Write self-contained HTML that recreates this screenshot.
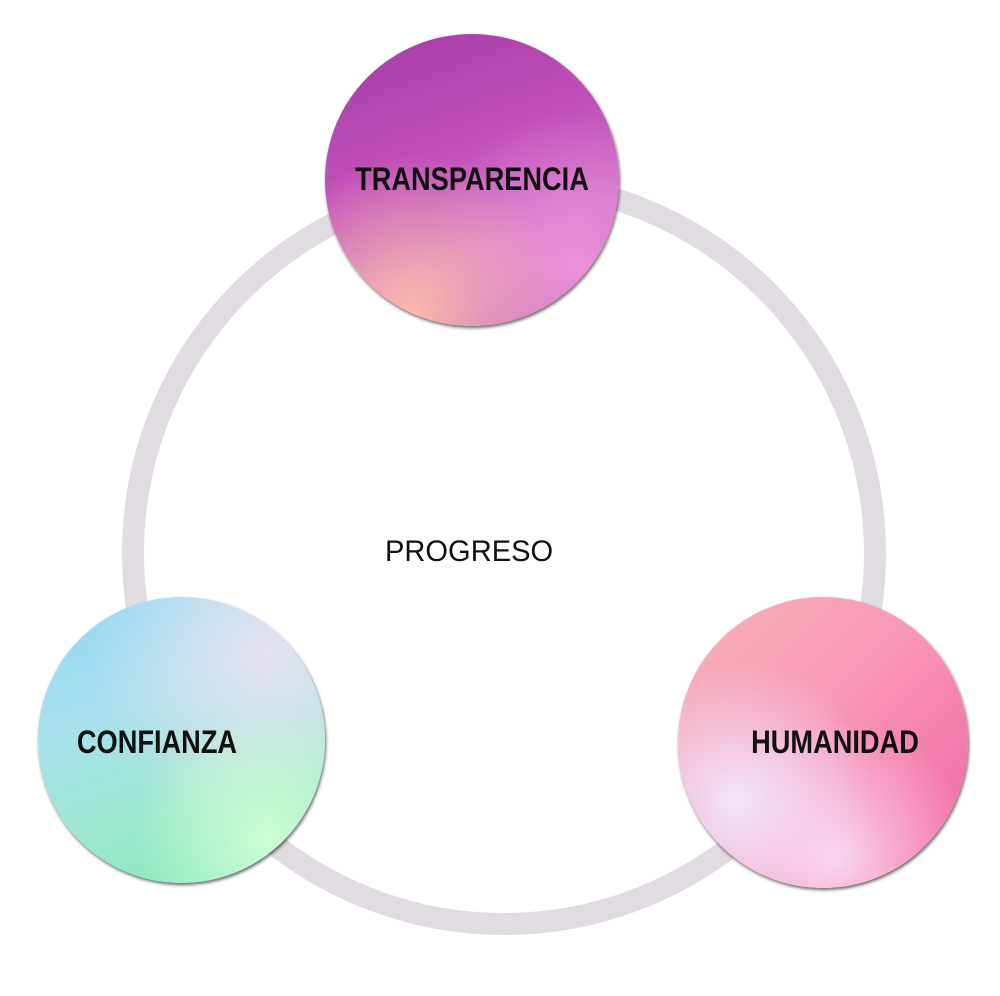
<!DOCTYPE html>
<html><head><meta charset="utf-8"><style>
html,body{margin:0;padding:0;background:#fff;}
body{width:1000px;height:996px;position:relative;overflow:hidden;font-family:"Liberation Sans",sans-serif;}
.ring{position:absolute;left:122px;top:171px;width:720px;height:720px;border:22px solid #e0dce1;border-radius:50%;}
.c{position:absolute;border-radius:50%;box-shadow:1px 2px 3px rgba(0,0,0,0.6);}
.lbl{position:absolute;font-weight:bold;font-size:32px;color:#111;transform:scaleX(0.85);transform-origin:center;white-space:nowrap;text-align:center;width:400px;}
</style></head><body>
<div class="ring"></div>
<div class="c" style="left:325px;top:34px;width:294px;height:292px;background:
radial-gradient(circle at 30% 95%,rgba(255,190,170,0.95) 0%,rgba(255,190,170,0) 45%),
radial-gradient(circle at 85% 80%,rgba(245,150,220,0.9) 0%,rgba(245,150,220,0) 45%),
linear-gradient(160deg,#a23aa8 0%,#c050b8 40%,#c970c8 70%,#9a50b0 100%);"></div>
<div class="c" style="left:38px;top:597px;width:287px;height:286px;background:
radial-gradient(circle at 80% 85%,rgba(210,255,210,0.95) 0%,rgba(210,255,210,0) 40%),
radial-gradient(circle at 80% 20%,rgba(230,225,240,1) 0%,rgba(230,225,240,0) 55%),
linear-gradient(160deg,#8fd8f5 0%,#a8e0ee 35%,#9ee8d0 65%,#80e8b8 100%);"></div>
<div class="c" style="left:678px;top:597px;width:290px;height:291px;background:
radial-gradient(circle at 20% 70%,rgba(240,230,250,1) 0%,rgba(240,230,250,0) 45%),
radial-gradient(circle at 55% 90%,rgba(250,210,235,1) 0%,rgba(250,210,235,0) 45%),
linear-gradient(135deg,#f8b0b8 0%,#f898b8 45%,#f060a0 100%);"></div>
<div class="lbl" style="left:272px;top:161px;">TRANSPARENCIA</div>
<div class="lbl" style="left:-43px;top:724px;">CONFIANZA</div>
<div class="lbl" style="left:635px;top:724px;">HUMANIDAD</div>
<div style="position:absolute;left:385px;top:535px;font-size:30px;color:#111;transform:scaleX(0.97);transform-origin:left;">PROGRESO</div>
</body></html>
